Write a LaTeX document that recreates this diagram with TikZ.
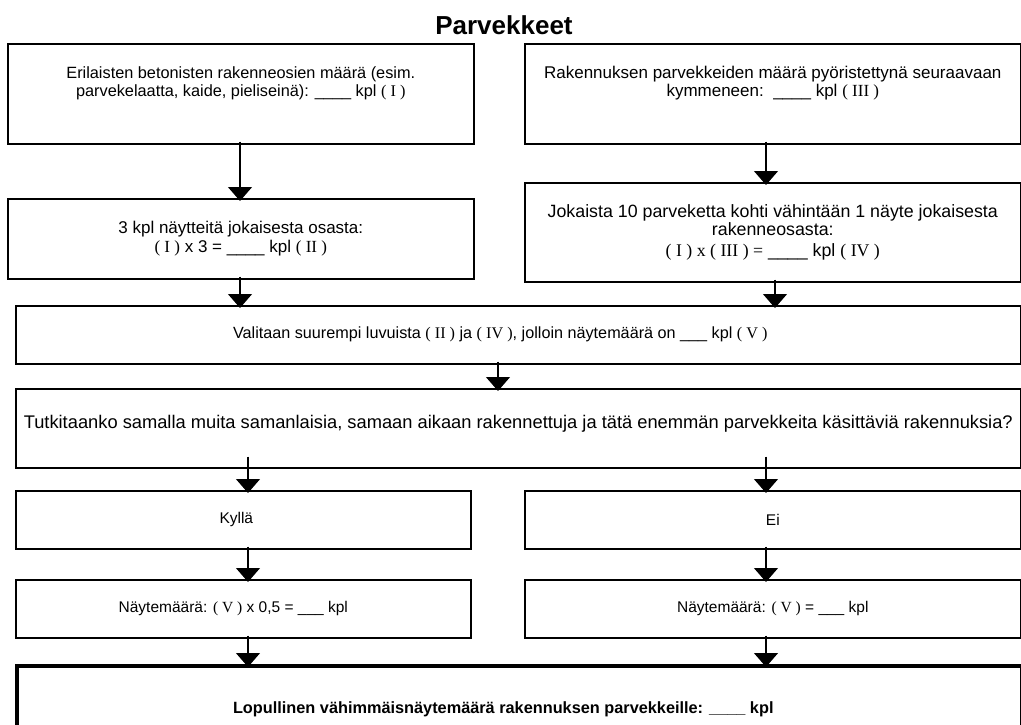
\documentclass[tikz,border=0pt]{standalone}
\usepackage{fontspec}
\setmainfont{Liberation Sans}
\newfontfamily\rmn{Liberation Serif}
\usepackage{tikz}
\usetikzlibrary{arrows.meta, positioning}
\newcommand{\num}[1]{{\rmn ( #1 )}}
\newcommand{\blank}{\_\_\_\_}

\begin{document}
\begin{tikzpicture}[x=1pt, y=-1pt, font=\fontsize{17}{18.5}\selectfont,
  box/.style={draw, line width=1.6pt, anchor=north west, inner sep=0pt, align=center},
  small/.style={font=\fontsize{15.5}{17}\selectfont},
  finbox/.style={box, line width=3.6pt, font=\bfseries\fontsize{16.3}{18}\selectfont},
  arr/.style={-{Triangle[width=24pt, length=14pt]}, line width=1.3pt,
              shorten <=-3pt, shorten >=-3pt}]
  \useasboundingbox (0,0) rectangle (1021,725);
  \node[font=\bfseries\fontsize{26}{30}\selectfont] (title) at (504,25) {Parvekkeet};
  % top row
  \node[box, minimum width=466pt, minimum height=100pt, font=\fontsize{16.3}{18.5}\selectfont] (osat) at (7,43)
       {Erilaisten betonisten rakenneosien määrä (esim.\\
        parvekelaatta, kaide, pieliseinä): \blank{} kpl \num{I}\\[6pt] \mbox{}};
  \node[box, minimum width=496pt, minimum height=100pt] (maara) at (524,43)
       {Rakennuksen parvekkeiden määrä pyöristettynä seuraavaan\\
        kymmeneen:\ \ \blank{} kpl \num{III}\\[6pt] \mbox{}};
  \node[box, minimum width=466pt, minimum height=80pt] (kolme) at (7,198)
       {3 kpl näytteitä jokaisesta osasta:\\ \num{I} x 3 = \blank{} kpl \num{II}};
  \node[box, minimum width=496pt, minimum height=99pt, font=\fontsize{17.8}{18.5}\selectfont] (kymmen) at (524,182)
       {Jokaista 10 parveketta kohti vähintään 1 näyte jokaisesta\\ rakenneosasta:\\[2pt]
        {\rmn ( I ) x ( III ) =} \blank{} kpl \num{IV}};
  \draw[arr] (osat.south -| 240,0) -- (kolme.north -| 240,0);
  \draw[arr] (maara.south -| 766,0) -- (kymmen.north -| 766,0);
  % middle
  \node[box, minimum width=1005pt, minimum height=58pt, font=\fontsize{16.2}{18}\selectfont] (valinta) at (15,305)
       {Valitaan suurempi luvuista \num{II} ja \num{IV}, jolloin näytemäärä on \_\_\_ kpl \num{V}\hspace*{36pt}};
  \draw[arr] (kolme.south -| 240,0) -- (valinta.north -| 240,0);
  \draw[arr] (kymmen.south -| 775,0) -- (valinta.north -| 775,0);
  \node[box, minimum width=1005pt, minimum height=79pt, font=\fontsize{18.3}{20}\selectfont] (kysymys) at (15,388)
       {Tutkitaanko samalla muita samanlaisia, samaan aikaan rakennettuja ja tätä enemmän parvekkeita käsittäviä rakennuksia?\\[-8pt] \mbox{}};
  \draw[arr] (valinta.south -| 498,0) -- (kysymys.north -| 498,0);
  % answers
  \node[box, small, minimum width=455pt, minimum height=58pt] (kylla) at (15,490) {Kyllä\hspace*{14pt}};
  \node[box, small, minimum width=496pt, minimum height=58pt] (ei) at (524,490) {Ei};
  \node[box, small, minimum width=455pt, minimum height=58pt] (puolet) at (15,579)
       {Näytemäärä: \num{V} x 0,5 = \_\_\_ kpl\hspace*{20pt}};
  \node[box, small, minimum width=496pt, minimum height=58pt] (kaikki) at (524,579)
       {Näytemäärä: \num{V} = \_\_\_ kpl};
  \node[finbox, minimum width=1005pt, minimum height=86pt] (tulos) at (15,664)
       {Lopullinen vähimmäisnäytemäärä rakennuksen parvekkeille: \blank{} kpl\hspace*{32pt}};
  \draw[arr, shorten <=-12pt] (kysymys.south -| 248,0) -- (kylla.north -| 248,0);
  \draw[arr, shorten <=-12pt] (kysymys.south -| 766,0) -- (ei.north -| 766,0);
  \draw[arr] (kylla.south -| 248,0) -- (puolet.north -| 248,0);
  \draw[arr] (ei.south -| 766,0) -- (kaikki.north -| 766,0);
  \draw[arr] (puolet.south -| 248,0) -- (tulos.north -| 248,0);
  \draw[arr] (kaikki.south -| 766,0) -- (tulos.north -| 766,0);
\end{tikzpicture}
\end{document}
